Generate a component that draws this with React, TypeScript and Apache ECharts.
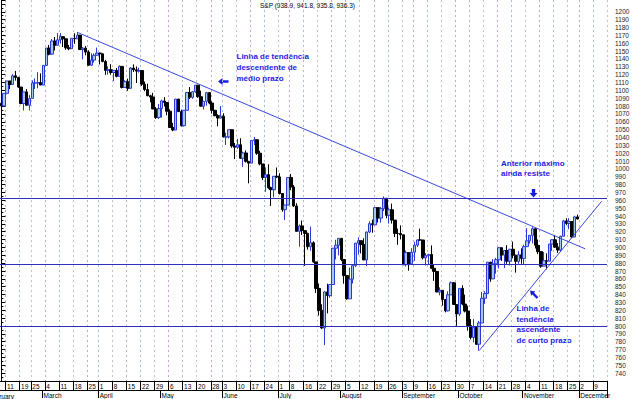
import React, { useEffect, useRef } from "react";
import * as echarts from "echarts";

// ---- data: S&P daily bars (open, high, low, close) ----
const tradingDays = [
  "02-07","02-08","02-11","02-12","02-13","02-14","02-15","02-19","02-20","02-21","02-22","02-25","02-26","02-27","02-28",
  "03-01","03-04","03-05","03-06","03-07","03-08","03-11","03-12","03-13","03-14","03-15","03-18","03-19","03-20","03-21","03-22","03-25","03-26","03-27","03-28",
  "04-01","04-02","04-03","04-04","04-05","04-08","04-09","04-10","04-11","04-12","04-15","04-16","04-17","04-18","04-19","04-22","04-23","04-24","04-25","04-26","04-29","04-30",
  "05-01","05-02","05-03","05-06","05-07","05-08","05-09","05-10","05-13","05-14","05-15","05-16","05-17","05-20","05-21","05-22","05-23","05-24","05-28","05-29","05-30","05-31",
  "06-03","06-04","06-05","06-06","06-07","06-10","06-11","06-12","06-13","06-14","06-17","06-18","06-19","06-20","06-21","06-24","06-25","06-26","06-27","06-28",
  "07-01","07-02","07-03","07-05","07-08","07-09","07-10","07-11","07-12","07-15","07-16","07-17","07-18","07-19","07-22","07-23","07-24","07-25","07-26","07-29","07-30","07-31",
  "08-01","08-02","08-05","08-06","08-07","08-08","08-09","08-12","08-13","08-14","08-15","08-16","08-19","08-20","08-21","08-22","08-23","08-26","08-27","08-28","08-29","08-30",
  "09-03","09-04","09-05","09-06","09-09","09-10","09-11","09-12","09-13","09-16","09-17","09-18","09-19","09-20","09-23","09-24","09-25","09-26","09-27","09-30",
  "10-01","10-02","10-03","10-04","10-07","10-08","10-09","10-10","10-11","10-14","10-15","10-16","10-17","10-18","10-21","10-22","10-23","10-24","10-25","10-28","10-29","10-30","10-31",
  "11-01","11-04","11-05","11-06","11-07","11-08","11-11","11-12","11-13","11-14","11-15","11-18","11-19","11-20","11-21","11-22","11-25","11-26","11-27","11-29"
];
const futureDays = ["12-02","12-03","12-04","12-05","12-06","12-09","12-10","12-11","12-12","12-13"];

const openPrices = [
  1083.5,1080.2,1096.2,1111.9,1107.5,1118.5,1116.5,1104.2,1083.3,1098.0,1081.0,1089.8,1109.4,1109.4,1109.9,
  1106.7,1131.8,1153.8,1146.1,1162.8,1157.5,1164.3,1168.3,1165.6,1154.1,1153.0,1166.2,1165.6,1170.3,1151.9,1153.6,1148.7,1131.9,1138.5,1144.6,
  1147.4,1146.5,1136.8,1125.4,1126.3,1122.7,1125.3,1117.8,1130.5,1103.7,1111.0,1102.6,1128.4,1126.1,1124.5,1125.2,1107.8,1101.0,1093.1,1091.5,1076.3,1065.5,
  1076.9,1086.5,1084.6,1073.4,1052.7,1049.5,1088.9,1073.0,1055.0,1074.6,1097.3,1091.1,1098.2,1106.6,1091.9,1079.9,1086.0,1097.1,1083.8,1074.6,1067.7,1064.7,
  1067.1,1040.7,1040.7,1049.9,1029.2,1027.5,1030.7,1013.6,1020.3,1009.6,1007.3,1036.2,1037.1,1020.0,1006.3,989.1,992.7,976.1,973.5,990.6,
  989.8,968.7,948.1,954.0,989.0,977.0,952.8,920.5,927.4,921.4,917.9,900.9,906.0,881.6,847.8,819.9,797.7,843.4,838.7,852.8,899.0,902.8,
  911.6,884.7,864.2,834.6,859.6,876.8,905.5,908.6,903.8,884.2,919.6,930.3,928.8,950.7,937.4,949.4,962.7,940.9,948.0,934.8,917.9,917.8,
  916.1,878.0,893.4,879.2,893.9,903.0,909.6,909.5,886.9,889.8,891.1,873.5,869.5,843.3,845.4,833.7,819.3,839.7,855.0,827.4,
  815.3,847.9,827.9,819.0,800.6,785.3,798.6,776.8,803.9,835.3,841.4,881.3,860.0,879.2,884.4,899.7,890.2,896.1,882.5,897.7,890.2,882.2,890.7,
  885.8,901.0,908.4,915.4,923.8,902.7,894.7,876.2,883.0,882.5,904.3,909.8,900.4,896.7,914.2,933.8,930.6,932.9,913.3,938.9
];
const highPrices = [
  1094.0,1096.3,1112.0,1112.0,1120.6,1124.7,1117.1,1104.2,1098.3,1101.5,1093.9,1112.7,1115.1,1123.1,1121.6,
  1131.8,1153.8,1157.7,1165.3,1167.9,1172.8,1173.0,1168.3,1165.6,1157.8,1166.5,1172.7,1173.9,1170.3,1155.1,1156.5,1151.0,1147.0,1146.9,1154.4,
  1148.0,1146.5,1138.9,1130.5,1133.3,1125.3,1128.3,1131.8,1130.5,1112.8,1114.9,1129.4,1133.0,1130.5,1128.8,1125.2,1111.2,1108.5,1094.4,1096.8,1078.9,1082.6,
  1088.3,1091.4,1084.6,1075.9,1058.7,1088.9,1088.9,1075.4,1074.8,1097.7,1104.2,1099.3,1106.6,1106.6,1099.6,1086.3,1097.1,1097.1,1085.9,1074.8,1069.5,1079.9,
  1070.7,1046.1,1050.1,1049.9,1033.0,1038.2,1039.0,1021.9,1023.5,1009.6,1036.2,1040.8,1037.6,1023.1,1006.3,1002.1,1005.9,977.4,990.7,1001.8,
  994.5,968.7,954.3,989.1,993.6,979.6,956.3,929.2,934.3,921.4,918.7,926.5,907.8,881.6,854.1,827.7,844.3,853.8,852.9,899.0,909.8,911.6,
  911.6,884.7,864.2,874.4,878.7,905.8,913.0,908.6,911.7,920.2,933.3,935.4,951.2,950.7,951.6,965.0,962.7,950.8,955.8,934.8,924.0,928.2,
  916.1,896.1,893.4,899.1,907.3,909.9,924.0,909.5,892.8,891.8,902.7,878.6,869.5,849.3,845.4,833.7,844.2,856.6,856.0,827.4,
  847.9,851.9,840.0,825.9,808.9,808.9,798.6,806.5,843.3,844.4,881.3,881.3,885.4,886.7,900.6,899.7,896.3,902.9,897.7,907.4,890.6,895.3,898.8,
  903.4,924.6,915.9,925.7,923.8,910.1,894.7,894.3,892.5,904.3,910.1,915.9,905.5,915.0,935.1,937.2,937.2,932.9,940.4,941.8
];
const lowPrices = [
  1078.0,1079.9,1095.0,1101.5,1107.5,1112.3,1103.2,1082.2,1074.4,1080.5,1074.4,1089.8,1101.7,1102.6,1106.7,
  1106.7,1130.9,1144.6,1145.1,1150.7,1157.5,1159.6,1155.2,1151.6,1151.0,1153.0,1159.1,1165.6,1151.6,1139.5,1144.6,1131.8,1131.6,1135.3,1144.6,
  1132.9,1135.7,1119.7,1120.1,1119.9,1111.8,1116.7,1117.8,1102.4,1103.7,1099.4,1102.6,1123.4,1109.3,1122.6,1105.6,1098.9,1092.5,1084.8,1076.3,1063.6,1063.5,
  1065.3,1079.5,1068.3,1052.7,1048.0,1049.5,1072.2,1053.9,1053.9,1074.6,1088.9,1089.2,1096.8,1090.6,1079.2,1075.6,1080.5,1082.2,1070.3,1067.0,1054.3,1064.7,
  1039.9,1030.5,1038.8,1026.9,1012.5,1025.5,1012.9,1002.6,1008.1,981.6,1007.3,1030.4,1017.9,1004.6,985.7,970.9,974.2,952.9,963.7,988.3,
  967.4,945.5,934.9,954.0,972.9,951.7,920.3,900.9,915.9,876.5,897.1,895.8,880.6,842.1,813.3,796.1,775.7,816.1,835.9,852.8,884.7,889.9,
  882.5,853.9,833.4,834.6,854.1,875.2,890.8,892.4,883.6,876.2,918.2,918.7,928.8,931.9,931.5,946.4,937.2,930.4,930.4,913.2,903.3,910.2,
  877.5,875.7,870.5,879.2,882.9,900.5,908.5,884.8,877.0,878.9,872.4,857.4,843.1,839.1,825.9,817.4,818.5,839.7,826.8,800.2,
  812.8,826.5,817.3,794.1,782.9,779.5,775.8,768.6,803.9,828.2,841.4,856.3,860.0,866.6,873.1,882.8,873.8,879.2,877.0,886.2,867.9,879.2,879.3,
  877.7,900.9,904.9,905.0,898.7,891.6,874.2,876.2,872.1,882.5,895.6,899.5,893.1,894.9,914.2,928.4,923.3,912.1,913.3,935.6
];
const closePrices = [
  1080.2,1096.2,1111.9,1107.5,1118.5,1116.5,1104.2,1083.3,1098.0,1081.0,1089.8,1109.4,1109.4,1109.9,1106.7,
  1131.8,1153.8,1146.1,1162.8,1157.5,1164.3,1168.3,1165.6,1154.1,1153.0,1166.2,1165.6,1170.3,1151.9,1153.6,1148.7,1131.9,1138.5,1144.6,1147.4,
  1146.5,1136.8,1125.4,1126.3,1122.7,1125.3,1117.8,1130.5,1103.7,1111.0,1102.6,1128.4,1126.1,1124.5,1125.2,1107.8,1101.0,1093.1,1091.5,1076.3,1065.5,1076.9,
  1086.5,1084.6,1073.4,1052.7,1049.5,1088.9,1073.0,1055.0,1074.6,1097.3,1091.1,1098.2,1106.6,1091.9,1079.9,1086.0,1097.1,1083.8,1074.6,1067.7,1064.7,1067.1,
  1040.7,1040.7,1049.9,1029.2,1027.5,1030.7,1013.6,1020.3,1009.6,1007.3,1036.2,1037.1,1020.0,1006.3,989.1,992.7,976.1,973.5,990.6,989.8,
  968.7,948.1,954.0,989.0,977.0,952.8,920.5,927.4,921.4,917.9,900.9,906.0,881.6,847.8,819.9,797.7,843.4,838.7,852.8,899.0,902.8,911.6,
  884.7,864.2,834.6,859.6,876.8,905.5,908.6,903.8,884.2,919.6,930.3,928.8,950.7,937.4,949.4,962.7,940.9,948.0,934.8,917.9,917.8,916.1,
  878.0,893.4,879.2,893.9,903.0,909.6,909.5,886.9,889.8,891.1,873.5,869.5,843.3,845.4,833.7,819.3,839.7,855.0,827.4,815.3,
  847.9,827.9,819.0,800.6,785.3,798.6,776.8,803.9,835.3,841.4,881.3,860.0,879.2,884.4,899.7,890.2,896.1,882.5,897.7,890.2,882.2,890.7,885.8,
  901.0,908.4,915.4,923.8,902.7,894.7,876.2,883.0,882.5,904.3,909.8,900.4,896.7,914.2,933.8,930.6,932.9,913.3,938.9,936.3
];

// ---- axis labels ----
const weekStartDays = [
  "02-11","02-19","02-25","03-04","03-11","03-18","03-25","04-01","04-08","04-15","04-22","04-29",
  "05-06","05-13","05-20","05-28","06-03","06-10","06-17","06-24","07-01","07-08","07-15","07-22","07-29",
  "08-05","08-12","08-19","08-26","09-03","09-09","09-16","09-23","09-30","10-07","10-14","10-21","10-28",
  "11-04","11-11","11-18","11-25","12-02","12-09"
];
const weekLabels = [
  "11","19","25","4","11","18","25","1","8","15","22","29",
  "6","13","20","28","3","10","17","24","1","8","16","22","29",
  "5","12","19","26","3","9","16","23","30","7","14","21","28",
  "4","11","18","25","2","9"
];
const monthStartDays = ["03-01","04-01","05-01","06-03","07-01","08-01","09-03","10-01","11-01","12-02"];
const monthLabels = ["March","April","May","June","July","August","September","October","November","December"];
const firstMonthLabel = "February";

const chartTitle = "S&P (938.9, 941.8, 935.8, 936.3)";

// ---- drawn analysis lines ----
const resistanceLevels = [963, 878, 800];
const descendingTrendline = [[27, 1173.9], [207.7, 898.3]];
const ascendingTrendline = [[170, 768.6], [213.6, 958.8]];

const FONT = '"Liberation Sans", Arial, sans-serif';
const BLUE_TEXT = "#1b1be6";

export default function App() {
  const ref = useRef<HTMLDivElement>(null);

  useEffect(() => {
    if (!ref.current) return;
    const chart = echarts.init(ref.current, undefined, { renderer: "svg" });
    const categories = [...tradingDays, ...futureDays];
    const weekIdx = new Set(weekStartDays.map((d) => categories.indexOf(d)));
    const monthIdx = new Set(monthStartDays.map((d) => categories.indexOf(d)));
    const weekMap: Record<string, string> = {};
    weekStartDays.forEach((d, i) => (weekMap[d] = weekLabels[i]));
    const monthMap: Record<string, string> = {};
    monthStartDays.forEach((d, i) => (monthMap[d] = monthLabels[i]));

    const candles = tradingDays.map((_, i) => [openPrices[i], closePrices[i], lowPrices[i], highPrices[i]]);
    const n = categories.length;

    const txt = (text: string, x: number, y: number, extra: any = {}) => ({
      type: "text",
      silent: true,
      style: {
        text,
        x,
        y,
        font: `bold 8px ${FONT}`,
        fill: BLUE_TEXT,
        align: "left",
        verticalAlign: "middle",
        textAlign: "left",
        textVerticalAlign: "middle",
        ...extra,
      },
    });

    chart.setOption({
      animation: false,
      backgroundColor: "#ffffff",
      grid: { left: 0, right: 27, top: 0, height: 382 },
      xAxis: [
        {
          type: "category",
          data: categories,
          position: "bottom",
          boundaryGap: true,
          axisLine: { show: true, lineStyle: { color: "#000", width: 1 } },
          axisTick: {
            show: true,
            interval: (i: number) => weekIdx.has(i),
            length: 9,
            lineStyle: { color: "#000" },
          },
          axisLabel: {
            show: true,
            interval: (i: number) => weekIdx.has(i),
            formatter: (v: string) => weekMap[v] || "",
            align: "left",
            margin: 2,
            fontSize: 6.5,
            fontFamily: FONT,
            color: "#000",
          },
          splitLine: {
            show: true,
            interval: (i: number) => weekIdx.has(i),
            lineStyle: { color: ["#c8a2d0", "#a2bde0", "#c4c4c4"], type: [2, 3], width: 1 },
          },
        },
        {
          type: "category",
          data: categories,
          position: "bottom",
          offset: 9,
          boundaryGap: true,
          axisLine: { show: true, lineStyle: { color: "#000", width: 1 } },
          axisTick: {
            show: true,
            interval: (i: number) => monthIdx.has(i),
            length: 8,
            lineStyle: { color: "#000" },
          },
          axisLabel: {
            show: true,
            interval: (i: number) => monthIdx.has(i),
            formatter: (v: string) => monthMap[v] || "",
            align: "left",
            margin: 2,
            fontSize: 6.5,
            fontFamily: FONT,
            color: "#000",
          },
          splitLine: { show: false },
        },
        {
          type: "value",
          min: -0.5,
          max: n - 0.5,
          show: false,
          splitLine: { show: false },
        },
      ],
      yAxis: {
        type: "value",
        position: "right",
        min: 730,
        max: 1215,
        interval: 10,
        axisLine: { show: true, lineStyle: { color: "#000" } },
        axisTick: { show: true, length: 4, lineStyle: { color: "#000" } },
        minorTick: { show: true, splitNumber: 2, length: 2, lineStyle: { color: "#000" } },
        axisLabel: {
          margin: 8,
          fontSize: 6.5,
          fontFamily: FONT,
          color: "#222",
          formatter: (v: number) => (v >= 740 && v <= 1200 ? String(v) : ""),
        },
        splitLine: { show: false },
      },
      series: [
        {
          type: "candlestick",
          xAxisIndex: 0,
          data: candles,
          barWidth: 3,
          itemStyle: {
            color: "#a9c6ec",
            borderColor: "#2a3ad6",
            color0: "#000000",
            borderColor0: "#000000",
            borderWidth: 1,
          },
          markLine: {
            silent: true,
            symbol: ["none", "none"],
            label: { show: false },
            lineStyle: { color: "#2f2fbf", width: 1, type: "solid" },
            data: resistanceLevels.map((v) => ({ yAxis: v })),
          },
        },
        {
          type: "line",
          xAxisIndex: 2,
          data: descendingTrendline,
          showSymbol: false,
          symbol: "none",
          silent: true,
          lineStyle: { color: "#3a48dc", width: 1 },
        },
        {
          type: "line",
          xAxisIndex: 2,
          data: ascendingTrendline,
          showSymbol: false,
          symbol: "none",
          silent: true,
          lineStyle: { color: "#3a48dc", width: 1 },
        },
      ],
      graphic: [
        {
          type: "text",
          silent: true,
          style: {
            text: chartTitle,
            x: 260,
            y: 5,
            font: `6.5px ${FONT}`,
            fill: "#000",
            verticalAlign: "middle",
            textVerticalAlign: "middle",
          },
        },
        {
          type: "text",
          silent: true,
          style: {
            text: firstMonthLabel,
            x: -12,
            y: 396,
            font: `6.5px ${FONT}`,
            fill: "#000",
            verticalAlign: "middle",
            textVerticalAlign: "middle",
          },
        },
        {
          type: "line",
          silent: true,
          shape: { x1: 607.5, y1: 382, x2: 607.5, y2: 391 },
          style: { stroke: "#000", lineWidth: 1 },
        },
        txt("Linha de tendência", 236.5, 56),
        txt("descendente de", 236.5, 67),
        txt("médio prazo", 236.5, 78),
        txt("Anterior máximo", 501, 163),
        txt("ainda resiste", 501, 173.5),
        txt("Linha de", 516.5, 308.3),
        txt("tendência", 516.5, 319),
        txt("ascendente", 516.5, 329.5),
        txt("de curto prazo", 516.5, 340),
        {
          type: "polygon",
          silent: true,
          shape: {
            points: [[218, 81.5], [222.5, 78], [222.5, 80.3], [228.5, 80.3], [228.5, 82.7], [222.5, 82.7], [222.5, 85]],
          },
          style: { fill: BLUE_TEXT },
        },
        {
          type: "polygon",
          silent: true,
          shape: {
            points: [[531.8, 189], [535.2, 189], [535.2, 193], [537.5, 193], [533.5, 197.5], [529.5, 193], [531.8, 193]],
          },
          style: { fill: BLUE_TEXT },
        },
        {
          type: "polygon",
          silent: true,
          shape: {
            points: [[530, 290.5], [535.3, 291.6], [534.05, 292.85], [538.35, 297.15], [536.65, 298.85], [532.35, 294.55], [531.1, 295.8]],
          },
          style: { fill: BLUE_TEXT },
        },
      ],
    });

    return () => chart.dispose();
  }, []);

  return (
    <div
      ref={ref}
      style={{ position: "fixed", left: 0, top: 0, width: 634, height: 399, background: "#fff" }}
    />
  );
}
